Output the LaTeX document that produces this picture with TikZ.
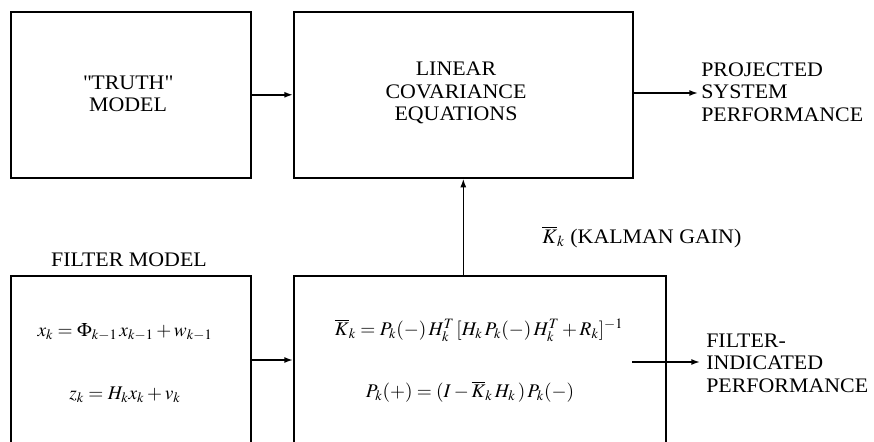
\documentclass[tikz,border=0pt]{standalone}
\usepackage{mathptmx}
\usepackage[no-math]{fontspec}
\setmainfont{Liberation Serif}[FakeStretch=1.06]
\usetikzlibrary{arrows.meta}
\begin{document}
\begin{tikzpicture}[x=0.75pt,y=-0.75pt,
    blk/.style={draw,line width=1.2pt,inner sep=0pt,anchor=north west},
    flow/.style={line width=1.2pt,-{Latex[length=6.5pt,width=4.5pt]}},
    txt/.style={font=\fontsize{15.5}{16.8}\selectfont,align=center,inner sep=0pt},
    eqtxt/.style={font=\fontsize{14.5}{16.8}\selectfont,inner sep=0pt},
    outtxt/.style={txt,align=left,anchor=west}]
    \useasboundingbox (0,0) rectangle (874,442);
    \clip (0,0) rectangle (874,442);
    % upper row
    \node[blk,minimum width=180pt,minimum height=124.5pt] (truth) at (10,11) {};
    \node[blk,minimum width=254.25pt,minimum height=124.5pt] (lincov) at (293,11) {};
    \node[txt] (truthtxt) at (128,94) {\textquotedbl TRUTH\textquotedbl\\MODEL};
    \node[txt] (lincovtxt) at (456,93) {LINEAR\\COVARIANCE\\EQUATIONS};
    \node[outtxt] (projtxt) at (701,92) {PROJECTED\\SYSTEM\\PERFORMANCE};
    \coordinate (projend) at (698,93);
    % lower row (cut off at the bottom)
    \node[blk,minimum width=180pt,minimum height=150pt] (fmodel) at (10,275) {};
    \node[blk,minimum width=279pt,minimum height=150pt] (gain) at (293,275) {};
    \node[txt] (fmodeltxt) at (129,260) {FILTER MODEL};
    \node[eqtxt] (xeq) at (125,332) {$x_k = \Phi_{k-1}\, x_{k-1} + w_{k-1}$};
    \node[eqtxt] (zeq) at (125,395) {$z_k = H_k x_k + v_k$};
    \node[eqtxt] (keq) at (479,330) {$\overline{K}_k = P_k(-)\,H_k^T\,[H_k\,P_k(-)\,H_k^T + R_k]^{-1}$};
    \node[eqtxt] (peq) at (470,392) {$P_k(+) = (I - \overline{K}_k\,H_k\,)\,P_k(-)$};
    \node[txt,anchor=west] (gaintxt) at (542,237) {$\overline{K}_k$ (KALMAN GAIN)};
    \node[outtxt] (filtxt) at (706,363) {FILTER-\\INDICATED\\PERFORMANCE};
    \coordinate (filstart) at (632,362);
    \coordinate (filend) at (700,362);
    \coordinate (fmlevel) at (0,360);
    % connectors
    \draw[flow] (truth.east) -- (lincov.west |- truth.east);
    \draw[flow] (lincov.east |- projend) -- (projend);
    \draw[flow] (gain.north -| lincov.south) -- (lincov.south);
    \draw[flow] (fmodel.east |- fmlevel) -- (gain.west |- fmlevel);
    \draw[flow] (filstart) -- (filend);
\end{tikzpicture}
\end{document}
